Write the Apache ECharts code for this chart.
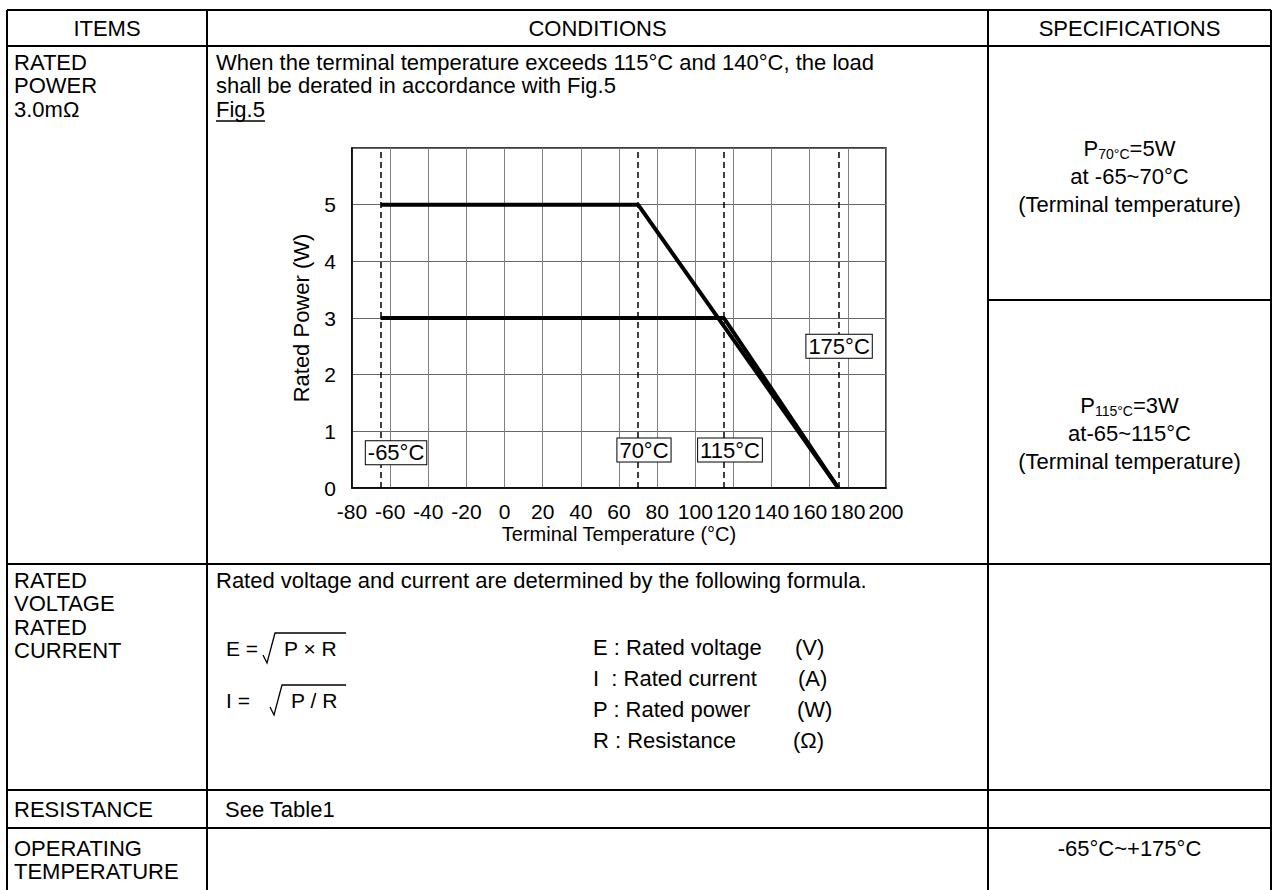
<!DOCTYPE html>
<html><head><meta charset="utf-8">
<script src="https://cdn.jsdelivr.net/npm/echarts@6/dist/echarts.min.js"></script>
<style>html,body{margin:0;padding:0;background:#fff}#c{width:1278px;height:890px}</style>
</head><body><div id="c"></div>
<script>
const FONT = '"Liberation Sans", Arial, Helvetica, sans-serif';
// ---- chart data ----
const line5Temps = [-65, 70, 175];
const line5Power = [5, 5, 0];
const line3Temps = [-65, 115, 175];
const line3Power = [3, 3, 0];
const refTemps = [-65, 70, 115, 175];
const refLabels = ['-65°C', '70°C', '115°C', '175°C'];
// anchor (temperature, power) where each reference tag box is centred
const tagTemps = [-56.9, 73.1, 118.2, 175.4];
const tagPowers = [0.62, 0.67, 0.67, 2.5];
const xMin = -80, xMax = 200, xStep = 20;
const yMin = 0, yMax = 6, yStep = 1;

// ---- table geometry ----
const colX = [7, 207, 988, 1271];
const rowY = [10, 46, 564, 790, 828];
const bottomY = 890;
const specSplitY = 300;

const g = [];
function hline(y, x1, x2) { g.push({type:'line', shape:{x1:x1, y1:y, x2:x2, y2:y}, style:{stroke:'#000', lineWidth:2}, silent:true}); }
function vline(x, y1, y2) { g.push({type:'line', shape:{x1:x, y1:y1, x2:x, y2:y2}, style:{stroke:'#000', lineWidth:2}, silent:true}); }
function txt(s, x, y, align, size) {
  g.push({type:'text', silent:true, style:{text:s, x:x, y:y, fill:'#000', fontSize:size||22, fontFamily:FONT, align:align||'left', verticalAlign:'middle'}});
}
function rich(s, x, y) {
  g.push({type:'text', silent:true, style:{text:s, x:x, y:y, fill:'#000', align:'center', verticalAlign:'middle',
    rich:{a:{fontSize:22, fontFamily:FONT, lineHeight:26, fill:'#000'}, s:{fontSize:14, fontFamily:FONT, lineHeight:15, verticalAlign:'bottom', fill:'#000'}}}});
}
function poly(pts, w) { g.push({type:'polyline', silent:true, shape:{points:pts}, style:{stroke:'#000', lineWidth:w||1.5, fill:null}}); }

rowY.forEach(y => hline(y, colX[0], colX[3]));
hline(specSplitY, colX[2], colX[3]);
colX.forEach(x => vline(x, rowY[0], bottomY));

// header
txt('ITEMS', (colX[0]+colX[1])/2, 28, 'center');
txt('CONDITIONS', (colX[1]+colX[2])/2, 28, 'center');
txt('SPECIFICATIONS', (colX[2]+colX[3])/2, 28, 'center');
const LX = 14, CX = 216, SX = (colX[2]+colX[3])/2;
// rated power row
txt('RATED', LX, 62); txt('POWER', LX, 85.5); txt('3.0mΩ', LX, 109);
txt('When the terminal temperature exceeds 115°C and 140°C, the load', CX, 62);
txt('shall be derated in accordance with Fig.5', CX, 85.5);
txt('Fig.5', CX, 109);
poly([[CX, 121], [CX + 49, 121]], 1.5);
rich('{a|P}{s|70°C}{a|=5W}', SX, 148);
txt('at -65~70°C', SX, 176, 'center');
txt('(Terminal temperature)', SX, 204, 'center');
rich('{a|P}{s|115°C}{a|=3W}', SX, 405);
txt('at-65~115°C', SX, 433, 'center');
txt('(Terminal temperature)', SX, 461, 'center');
// rated voltage row
txt('RATED', LX, 580); txt('VOLTAGE', LX, 603.5); txt('RATED', LX, 627); txt('CURRENT', LX, 650.5);
txt('Rated voltage and current are determined by the following formula.', CX, 580);
txt('E =', 226, 648, 'left', 21); txt('P × R', 284, 648, 'left', 21);
poly([[263, 655], [267, 663], [275, 633], [346, 633]], 1.3);
txt('I =', 226, 700, 'left', 21); txt('P / R', 291, 700, 'left', 21);
poly([[270, 707], [274, 715], [282, 685], [346, 685]], 1.3);
txt('E : Rated voltage', 593, 647); txt('(V)', 795, 647);
txt('I\u00a0\u00a0: Rated current', 593, 678); txt('(A)', 798, 678);
txt('P : Rated power', 593, 709); txt('(W)', 797, 709);
txt('R : Resistance', 593, 740); txt('(Ω)', 793, 740);
// resistance row
txt('RESISTANCE', LX, 809); txt('See Table1', 225, 809);
// operating temp row
txt('OPERATING', LX, 848); txt('TEMPERATURE', LX, 871.5);
txt('-65°C~+175°C', SX, 848, 'center');

const chart = echarts.init(document.getElementById('c'), null, {renderer:'svg', width:1278, height:890});
chart.setOption({
  backgroundColor:'#fff',
  animation:false,
  grid:{left:352, top:148, width:534, height:340, show:true, borderColor:'#000', borderWidth:1.5, backgroundColor:'transparent'},
  xAxis:{type:'value', min:xMin, max:xMax, interval:xStep,
    name:'Terminal Temperature (°C)', nameLocation:'middle', nameGap:36,
    nameTextStyle:{fontSize:20, fontFamily:FONT, color:'#000'},
    axisLine:{show:true, onZero:false, lineStyle:{color:'#000', width:1.5}}, axisTick:{show:false},
    axisLabel:{fontSize:21, fontFamily:FONT, color:'#000', margin:13},
    splitLine:{show:true, lineStyle:{color:'#808080', width:1}}},
  yAxis:{type:'value', min:yMin, max:yMax, interval:yStep,
    name:'Rated Power (W)', nameLocation:'middle', nameGap:40, nameRotate:90,
    nameTextStyle:{fontSize:22, fontFamily:FONT, color:'#000'},
    axisLine:{show:true, onZero:false, lineStyle:{color:'#000', width:1.5}}, axisTick:{show:false},
    axisLabel:{fontSize:21, fontFamily:FONT, color:'#000', margin:16, formatter:v => v > 5 ? '' : String(v)},
    splitLine:{show:true, lineStyle:{color:'#666', width:1}}},
  series:[
    {type:'line', data:line5Temps.map((t,i)=>[t, line5Power[i]]), symbol:'none', z:5,
     lineStyle:{color:'#000', width:4},
     markLine:{silent:true, symbol:'none', label:{show:false}, lineStyle:{color:'#000', type:[6,4], width:1.5},
       data:refTemps.map(t=>({xAxis:t}))}},
    {type:'line', data:line3Temps.map((t,i)=>[t, line3Power[i]]), symbol:'none', z:5,
     lineStyle:{color:'#000', width:4}}
  ],
  graphic:{elements:g}
});
// reference tags placed through the chart's own scales
tagTemps.forEach((t, i) => {
  const p = chart.convertToPixel({gridIndex:0}, [t, tagPowers[i]]);
  g.push({type:'text', silent:true, z:100, style:{text:refLabels[i], x:p[0], y:p[1], fill:'#000', fontSize:22, fontFamily:FONT,
    align:'center', verticalAlign:'middle', backgroundColor:'#fff', borderColor:'#000', borderWidth:1, padding:[1,2,0,2]}});
});
chart.setOption({graphic:{elements:g}});
</script></body></html>
